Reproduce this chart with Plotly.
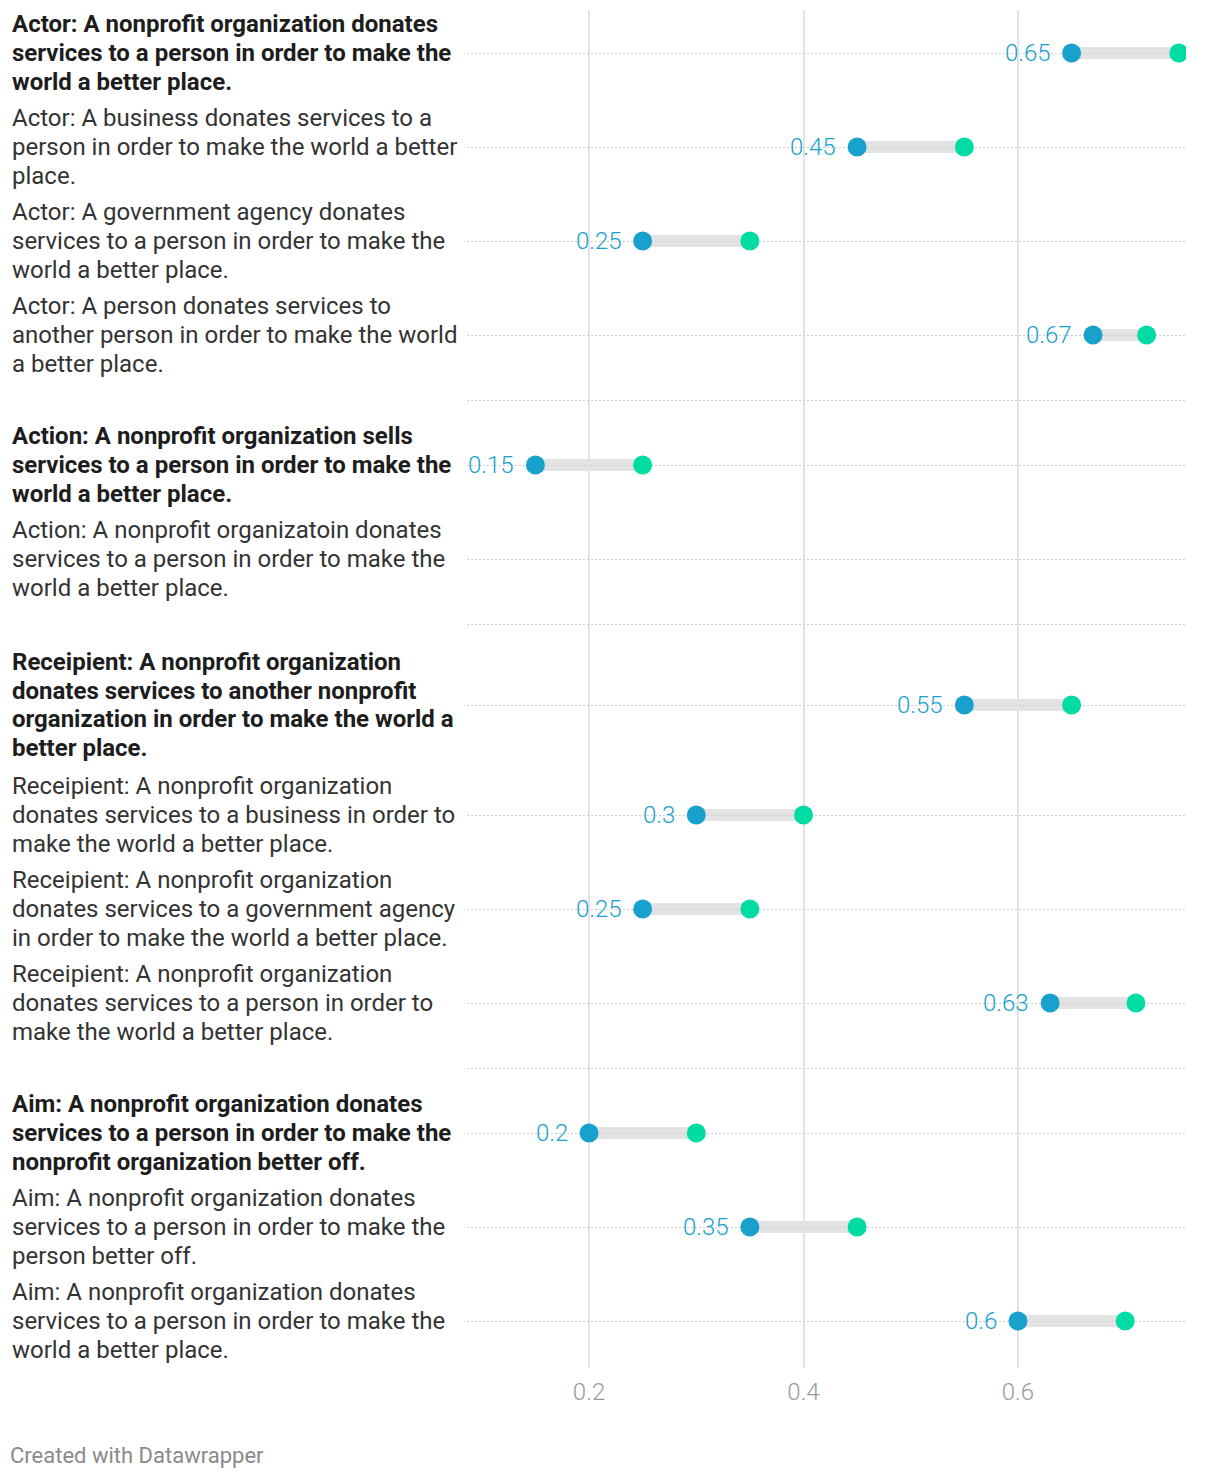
import plotly.graph_objects as go

# ---------------- data ----------------
categories = [
    "Actor: A nonprofit organization donates<br>services to a person in order to make the<br>world a better place.",
    "Actor: A business donates services to a<br>person in order to make the world a better<br>place.",
    "Actor: A government agency donates<br>services to a person in order to make the<br>world a better place.",
    "Actor: A person donates services to<br>another person in order to make the world<br>a better place.",
    "Action: A nonprofit organization sells<br>services to a person in order to make the<br>world a better place.",
    "Action: A nonprofit organizatoin donates<br>services to a person in order to make the<br>world a better place.",
    "Receipient: A nonprofit organization<br>donates services to another nonprofit<br>organization in order to make the world a<br>better place.",
    "Receipient: A nonprofit organization<br>donates services to a business in order to<br>make the world a better place.",
    "Receipient: A nonprofit organization<br>donates services to a government agency<br>in order to make the world a better place.",
    "Receipient: A nonprofit organization<br>donates services to a person in order to<br>make the world a better place.",
    "Aim: A nonprofit organization donates<br>services to a person in order to make the<br>nonprofit organization better off.",
    "Aim: A nonprofit organization donates<br>services to a person in order to make the<br>person better off.",
    "Aim: A nonprofit organization donates<br>services to a person in order to make the<br>world a better place.",
]
groups = ["Actor", "Actor", "Actor", "Actor",
          "Action", "Action",
          "Receipient", "Receipient", "Receipient", "Receipient",
          "Aim", "Aim", "Aim"]
highlighted = [True, False, False, False,
               True, False,
               True, False, False, False,
               True, False, False]
start_values = [0.65, 0.45, 0.25, 0.67, 0.15, None, 0.55, 0.3, 0.25, 0.63, 0.2, 0.35, 0.6]
end_values = [0.75, 0.55, 0.35, 0.72, 0.25, None, 0.65, 0.4, 0.35, 0.71, 0.3, 0.45, 0.7]
x_ticks = [0.2, 0.4, 0.6]
x_tick_labels = ["0.2", "0.4", "0.6"]

# ---------------- style / layout ----------------
OFF = 8                      # page body margin of the html page
W, H = 1220 - OFF, 1478 - OFF
BLUE = "#18a1cd"
GREEN = "#00dca4"
BAR = "#e3e3e3"
FONT = "Roboto"
TEXT_LINE = 28.6             # spacing of wrapped label lines
ROW_PER_LINE = 32
ROW_PAD = -2
SEP_H = 36
ROW_TOP = 6                  # page px where first row starts
PLOT_TOP, PLOT_BOTTOM = 10, 1368
PLOT_LEFT, PLOT_RIGHT = 467, 1186
LABEL_X, FOOTER_X = 10, 8
X_RANGE = [0.0862, 0.7567]

# row positions computed from line counts (layout units = page pixels)
row_y, grid_y = [], []
cursor = float(ROW_TOP)
prev_group = None
for cat, grp in zip(categories, groups):
    if prev_group is not None and grp != prev_group:
        grid_y.append(cursor + SEP_H / 2)
        cursor += SEP_H
    h = (cat.count("<br>") + 1) * ROW_PER_LINE + ROW_PAD
    row_y.append(cursor + h / 2)
    grid_y.append(cursor + h / 2)
    cursor += h
    prev_group = grp

fig = go.Figure()

# connecting bars
for y, s, e in zip(row_y, start_values, end_values):
    if s is None or e is None:
        continue
    fig.add_shape(type="line", xref="x", yref="y", x0=s, x1=e, y0=y, y1=y,
                  line=dict(color=BAR, width=12), layer="below")

ys = [y for y, s in zip(row_y, start_values) if s is not None]
ss = [s for s in start_values if s is not None]
es = [e for e in end_values if e is not None]

fig.add_trace(go.Scatter(x=es, y=ys, mode="markers",
                         marker=dict(color=GREEN, size=19, line=dict(width=0)),
                         hoverinfo="skip", showlegend=False))
fig.add_trace(go.Scatter(x=ss, y=ys, mode="markers",
                         marker=dict(color=BLUE, size=19, line=dict(width=0)),
                         hoverinfo="skip", showlegend=False))

# value labels
for y, s in zip(ys, ss):
    fig.add_annotation(x=s, y=y, xref="x", yref="y", text=f"{s:g}",
                       showarrow=False, xanchor="right", yanchor="middle",
                       xshift=-19, font=dict(family=FONT, size=24, color=BLUE, weight=300))

# category labels, one annotation per wrapped line
for cat, y, hl in zip(categories, row_y, highlighted):
    lines = cat.split("<br>")
    n = len(lines)
    for i, ln in enumerate(lines):
        fig.add_annotation(x=(LABEL_X - OFF) / W, y=y + (i - (n - 1) / 2) * TEXT_LINE,
                           xref="paper", yref="y", text=ln,
                           showarrow=False, xanchor="left", yanchor="middle", align="left",
                           font=dict(family=FONT, size=24,
                                     color="#1d1d1d" if hl else "#333333",
                                     weight=700 if hl else 400))

# footer
fig.add_annotation(x=(FOOTER_X - OFF) / W, y=(1478 - 1455) / H, xref="paper", yref="paper",
                   text="Created with Datawrapper", showarrow=False,
                   xanchor="left", yanchor="middle",
                   font=dict(family=FONT, size=22, color="#8a8a8a"))

fig.update_layout(
    width=W, height=H,
    margin=dict(l=0, r=0, t=0, b=0, autoexpand=False),
    paper_bgcolor="white", plot_bgcolor="white",
    font=dict(family=FONT),
    xaxis=dict(domain=[(PLOT_LEFT - OFF) / W, (PLOT_RIGHT - OFF) / W], range=X_RANGE,
               tickvals=x_ticks, ticktext=x_tick_labels, showgrid=True,
               gridcolor="#e3e3e3", gridwidth=2, zeroline=False, showline=False,
               ticks="", ticklabelstandoff=7,
               tickfont=dict(family=FONT, size=24, color="#9a9a9a", weight=300),
               fixedrange=True, automargin=False),
    yaxis=dict(domain=[1 - (PLOT_BOTTOM - OFF) / H, 1 - (PLOT_TOP - OFF) / H],
               range=[PLOT_BOTTOM, PLOT_TOP],
               tickvals=grid_y, showticklabels=False, showgrid=True,
               gridcolor="#cfcfcf", gridwidth=1, griddash="2px,2px",
               zeroline=False, showline=False, ticks="",
               fixedrange=True, automargin=False),
    showlegend=False,
)

fig.write_html("out.html")
